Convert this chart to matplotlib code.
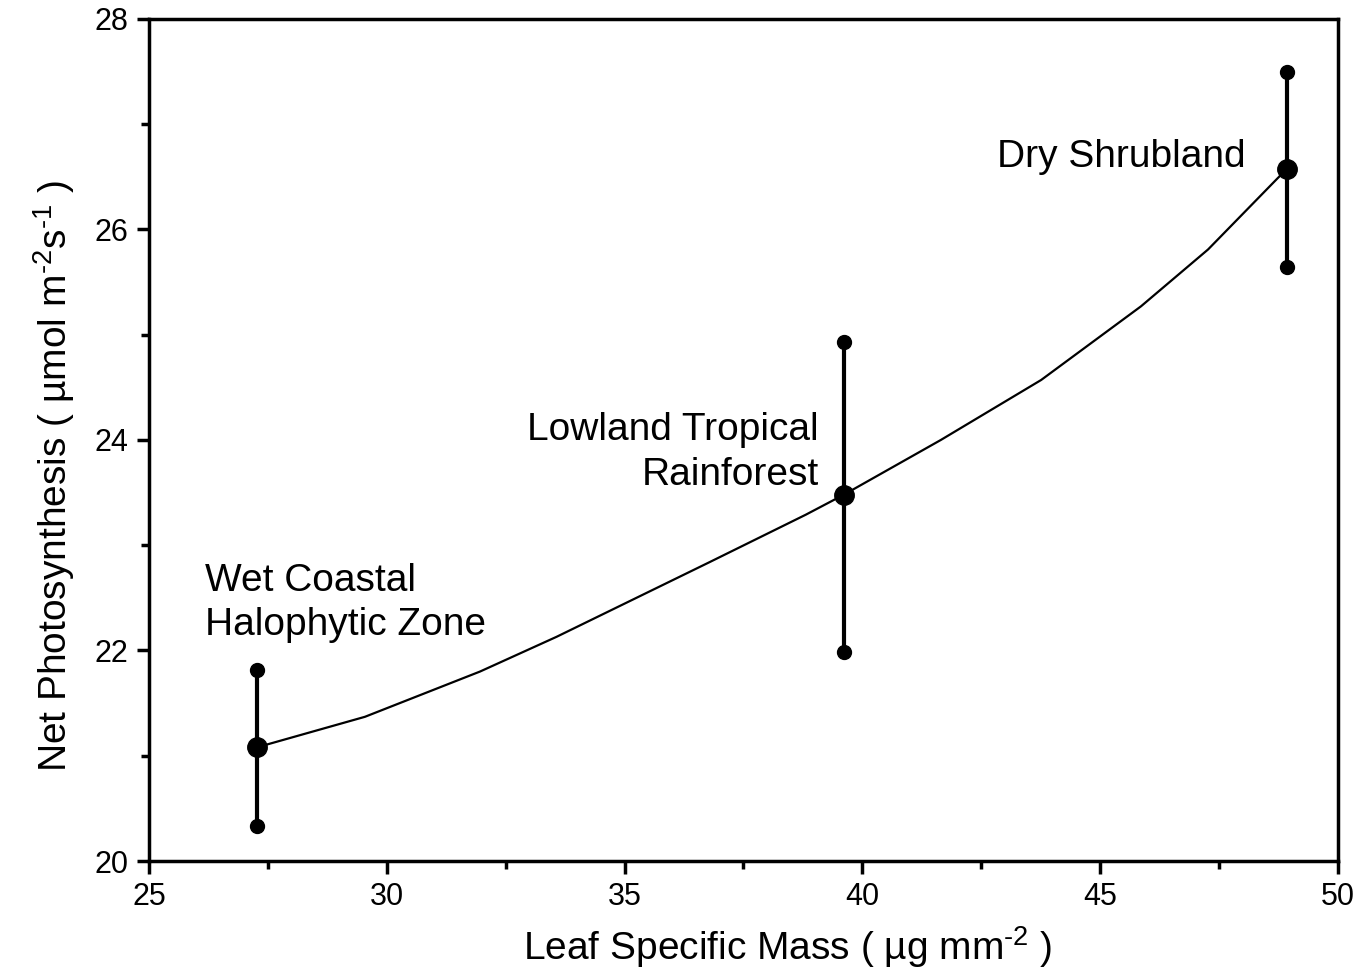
import matplotlib
matplotlib.use("Agg")
import matplotlib.pyplot as plt
from matplotlib.ticker import MultipleLocator

plt.rcParams['font.family'] = ['Liberation Sans', 'DejaVu Sans']
plt.rcParams['mathtext.fontset'] = 'custom'
plt.rcParams['mathtext.rm'] = 'Liberation Sans'
plt.rcParams['mathtext.it'] = 'Liberation Sans'

# site means with error bars
sites = ["Wet Coastal\nHalophytic Zone", "Lowland Tropical\nRainforest", "Dry Shrubland"]
lsm = [27.27, 39.61, 48.92]
photo = [21.08, 23.48, 26.57]
photo_hi = [21.81, 24.93, 27.50]
photo_lo = [20.33, 21.99, 25.64]

# fitted curve
curve_x = [27.27, 29.54, 31.96, 33.57, 36.79, 38.81, 39.61, 41.65, 43.76, 45.86, 47.27, 48.74, 48.92]
curve_y = [21.08, 21.37, 21.80, 22.13, 22.84, 23.29, 23.48, 24.00, 24.57, 25.27, 25.81, 26.49, 26.57]

fig = plt.figure(figsize=(13.61, 9.73), dpi=100)
ax = fig.add_axes([0.1095, 0.1151, 0.8735, 0.8654])

ax.plot(curve_x, curve_y, color='black', lw=1.6, zorder=2)
for x, lo, hi in zip(lsm, photo_lo, photo_hi):
    ax.plot([x, x], [lo, hi], color='black', lw=3, zorder=3)
    ax.plot([x, x], [lo, hi], 'o', color='black', ms=10, zorder=4)
ax.plot(lsm, photo, 'o', color='black', ms=14, zorder=5)

ax.text(26.18, 22.45, sites[0], ha='left', va='center', fontsize=28, linespacing=1.3)
ax.text(39.08, 23.88, sites[1], ha='right', va='center', fontsize=28, linespacing=1.3,
        multialignment='right')
ax.text(48.05, 26.69, sites[2], ha='right', va='center', fontsize=28)

ax.set_xlim(25, 50)
ax.set_ylim(20, 28)
ax.xaxis.set_major_locator(MultipleLocator(5))
ax.xaxis.set_minor_locator(MultipleLocator(2.5))
ax.yaxis.set_major_locator(MultipleLocator(2))
ax.yaxis.set_minor_locator(MultipleLocator(1))
ax.tick_params(which='major', direction='out', length=9, width=2.5, labelsize=22, pad=6)
ax.tick_params(which='minor', direction='out', length=6, width=2.5)
for s in ax.spines.values():
    s.set_linewidth(2.5)

ax.set_xlabel("Leaf Specific Mass ( µg mm$\\mathregular{^{\u20102}}$ )", fontsize=28, labelpad=12)
ax.set_ylabel("Net Photosynthesis ( µmol m$\\mathregular{^{\u20102}}$s$\\mathregular{^{\u20101}}$ )",
              fontsize=28, labelpad=14)
ax.xaxis.set_label_coords(0.537, -0.075)
ax.yaxis.set_label_coords(-0.061, 0.457)

plt.savefig("out.png", dpi=100)
